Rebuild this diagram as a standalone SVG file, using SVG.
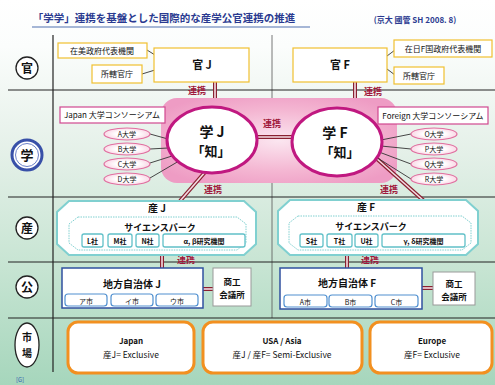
<svg xmlns="http://www.w3.org/2000/svg" width="495" height="385" viewBox="0 0 495 385">
<defs>
<linearGradient id="bg" x1="0" y1="0" x2="0" y2="1">
<stop offset="0" stop-color="#ffffff"/>
<stop offset="0.12" stop-color="#fbfdfc"/>
<stop offset="0.4" stop-color="#e4f0e8"/>
<stop offset="0.7" stop-color="#c6e4d2"/>
<stop offset="1" stop-color="#a6d6bc"/>
</linearGradient>
<radialGradient id="pinkg" cx="0.5" cy="0.5" r="0.6">
<stop offset="0" stop-color="#fbe6f0"/>
<stop offset="0.6" stop-color="#f4b6d2"/>
<stop offset="1" stop-color="#ee9cc4"/>
</radialGradient>
<radialGradient id="unig" cx="0.5" cy="0.5" r="0.6">
<stop offset="0.4" stop-color="#ffffff"/>
<stop offset="1" stop-color="#f8c8dc"/>
</radialGradient>
<style>
text{font-family:"Noto Sans CJK JP","Liberation Sans",sans-serif;fill:#111;text-anchor:middle}
.b{font-weight:bold}
.yb{fill:#fff;stroke:#f0c030;stroke-width:1.2}
.lbl{font-size:8px}
.red{fill:#a0183c;font-size:9px;font-weight:bold}
.dl{stroke:#8a2030;stroke-width:4;fill:none}
.dw{stroke:#f4dce4;stroke-width:1.6;fill:none}
.thin{stroke:#333;stroke-width:0.9;fill:none}
.uni{fill:url(#unig);stroke:#e070a0;stroke-width:1.2}
.oct{fill:#fff;stroke:#80d0d0;stroke-width:2}
.octi{fill:#fff;stroke:#80d0d0;stroke-width:1;stroke-dasharray:1.5 1}
.co{fill:#fff;stroke:#60c0c8;stroke-width:1.3}
.gov{fill:#fff;stroke:#3050a0;stroke-width:1.5}
.city{fill:#fff;stroke:#5090d0;stroke-width:1.2}
.cci{fill:#fff;stroke:#999;stroke-width:1}
.mk{fill:#fff;stroke:#f29020;stroke-width:3}
.grid{stroke:#222;stroke-width:1.2}
</style>
</defs>
<rect width="495" height="385" fill="url(#bg)"/>

<g id="title">
<text x="164" y="22" class="b" font-size="10.5" style="fill:#2a3a90">「学学」連携を基盤とした国際的な産学公官連携の推進</text>
<line x1="32" y1="27" x2="310" y2="27" stroke="#5070b0" stroke-width="1.2"/>
<text x="415" y="23" class="b" font-size="8" style="fill:#2a3a90">(京大 國管 SH 2008. 8)</text>
</g>

<g id="grid">
<line class="grid" x1="53" y1="35" x2="53" y2="372"/>
<line x1="272" y1="35" x2="272" y2="318" stroke="#555" stroke-width="0.8"/>
<line class="grid" x1="8" y1="90" x2="495" y2="90"/>
<line class="grid" x1="8" y1="197" x2="495" y2="197"/>
<line class="grid" x1="8" y1="262" x2="495" y2="262"/>
<line class="grid" x1="8" y1="318" x2="495" y2="318"/>
</g>

<g id="row-labels">
<circle cx="27" cy="68" r="11" fill="#fff" stroke="#222" stroke-width="1.3"/>
<text x="27" y="73" class="b" font-size="12">官</text>
<circle cx="27" cy="155" r="15" fill="#fff" stroke="#3850a8" stroke-width="3"/>
<circle cx="27" cy="155" r="11.5" fill="#fff" stroke="#6a80c8" stroke-width="1"/>
<text x="27" y="160" class="b" font-size="13">学</text>
<circle cx="27" cy="228" r="11" fill="#fff" stroke="#222" stroke-width="1.3"/>
<text x="27" y="233" class="b" font-size="12">産</text>
<circle cx="27" cy="287" r="11" fill="#fff" stroke="#222" stroke-width="1.3"/>
<text x="27" y="292" class="b" font-size="12">公</text>
<ellipse cx="27" cy="345" rx="12" ry="22" fill="#fff" stroke="#222" stroke-width="1.3"/>
<text x="27" y="341" class="b" font-size="10">市</text>
<text x="27" y="357" class="b" font-size="10">場</text>
</g>

<g id="connectors">
<line class="dl" x1="215" y1="82" x2="215" y2="108"/><line class="dw" x1="215" y1="82" x2="215" y2="108"/>
<line class="dl" x1="355" y1="82" x2="355" y2="109"/><line class="dw" x1="355" y1="82" x2="355" y2="109"/>
<line class="thin" x1="147" y1="50" x2="155" y2="55" stroke="#666"/>
<line class="thin" x1="142" y1="74" x2="155" y2="70" stroke="#666"/>
<line class="thin" x1="387" y1="56" x2="395" y2="50" stroke="#666"/>
<line class="thin" x1="387" y1="69" x2="395" y2="75" stroke="#666"/>
</g>

<g id="gakurow">
<rect x="161" y="98" width="236" height="85" rx="16" fill="url(#pinkg)"/>
</g>

<g id="connectors2">
<line class="dl" x1="256" y1="137" x2="294" y2="137"/><line class="dw" x1="256" y1="137" x2="294" y2="137"/>
<text x="272" y="127" class="red">連携</text>
<line class="dl" x1="206" y1="171" x2="180" y2="201"/><line class="dw" x1="206" y1="171" x2="180" y2="201"/>
<line class="dl" x1="376" y1="158" x2="424" y2="201"/><line class="dw" x1="376" y1="158" x2="424" y2="201"/>
<line class="dl" x1="162" y1="254" x2="162" y2="269"/><line class="dw" x1="162" y1="254" x2="162" y2="269"/>
<line class="dl" x1="347" y1="254" x2="347" y2="269"/><line class="dw" x1="347" y1="254" x2="347" y2="269"/>
<line class="dl" x1="203" y1="289" x2="214" y2="289"/><line class="dw" x1="203" y1="289" x2="214" y2="289"/>
<line class="dl" x1="422" y1="288" x2="434" y2="288"/><line class="dw" x1="422" y1="288" x2="434" y2="288"/>
<line class="thin" x1="150" y1="134" x2="168" y2="139"/>
<line class="thin" x1="150" y1="149" x2="168" y2="148"/>
<line class="thin" x1="150" y1="163" x2="172" y2="156"/>
<line class="thin" x1="150" y1="178" x2="179" y2="161"/>
<line class="thin" x1="381" y1="140" x2="411" y2="134"/>
<line class="thin" x1="381" y1="146" x2="411" y2="149"/>
<line class="thin" x1="379" y1="152" x2="411" y2="164"/>
<line class="thin" x1="376" y1="157" x2="411" y2="179"/>
<text x="197" y="94" class="red">連携</text>
<text x="373" y="95" class="red">連携</text>
<text x="213" y="193" class="red">連携</text>
<text x="389" y="193" class="red">連携</text>
<text x="186" y="263" class="red">連携</text>
<text x="370" y="263" class="red">連携</text>
</g>

<g id="gov-j">
<rect class="yb" x="58" y="43" width="89" height="15"/>
<text x="102" y="54" class="lbl">在美政府代表機関</text>
<rect class="yb" x="92" y="65" width="50" height="18"/>
<text x="117" y="77" class="lbl">所轄官庁</text>
<rect class="yb" x="154" y="48" width="95" height="34"/>
<text x="202" y="69" class="b" font-size="11">官 J</text>
</g>
<g id="gov-f">
<rect class="yb" x="394" y="40" width="98" height="17"/>
<text x="443" y="52" class="lbl">在日F国政府代表機関</text>
<rect class="yb" x="394" y="67" width="50" height="17"/>
<text x="419" y="79" class="lbl">所轄官庁</text>
<rect class="yb" x="293" y="48" width="94" height="34"/>
<text x="340" y="69" class="b" font-size="11">官 F</text>
</g>

<g id="consortium-j">
<rect x="60" y="107" width="105" height="16" fill="#fff" stroke="#d04890" stroke-width="1.2"/>
<text x="112" y="118" class="lbl">Japan 大学コンソーシアム</text>
</g>
<g id="consortium-f">
<rect x="378" y="107" width="110" height="17" fill="#fff" stroke="#d04890" stroke-width="1.2"/>
<text x="433" y="119" class="lbl">Foreign 大学コンソーシアム</text>
</g>
<g id="unis-j">
<ellipse class="uni" cx="127" cy="134" rx="23" ry="6"/><text x="127" y="137" font-size="7">A大学</text>
<ellipse class="uni" cx="127" cy="149" rx="23" ry="6"/><text x="127" y="152" font-size="7">B大学</text>
<ellipse class="uni" cx="127" cy="164" rx="23" ry="6"/><text x="127" y="167" font-size="7">C大学</text>
<ellipse class="uni" cx="127" cy="179" rx="23" ry="6"/><text x="127" y="182" font-size="7">D大学</text>
</g>
<g id="unis-f">
<ellipse class="uni" cx="434" cy="134" rx="23" ry="6"/><text x="434" y="137" font-size="7">O大学</text>
<ellipse class="uni" cx="434" cy="149" rx="23" ry="6"/><text x="434" y="152" font-size="7">P大学</text>
<ellipse class="uni" cx="434" cy="164" rx="23" ry="6"/><text x="434" y="167" font-size="7">Q大学</text>
<ellipse class="uni" cx="434" cy="179" rx="23" ry="6"/><text x="434" y="182" font-size="7">R大学</text>
</g>

<g id="gaku-j">
<ellipse cx="212" cy="140" rx="45" ry="33" fill="#fff" stroke="#c01880" stroke-width="3"/>
<text x="212" y="137" class="b" font-size="14">学 J</text>
<text x="211" y="156" class="b" font-size="13">「知」</text>
</g>
<g id="gaku-f">
<ellipse cx="337" cy="142" rx="45" ry="34" fill="#fff" stroke="#c01880" stroke-width="3"/>
<text x="335" y="138" class="b" font-size="14">学 F</text>
<text x="340" y="157" class="b" font-size="13">「知」</text>
</g>

<g id="san-j">
<path class="oct" d="M69,201 H244 L256,212 V244 L244,255 H69 L57,244 V212 Z"/>
<path class="octi" d="M78,217 H237 L246,224 V243 L237,250 H78 L69,243 V224 Z"/>
<text x="157" y="212" class="b" font-size="10">産 J</text>
<text x="160" y="231" class="b" font-size="9">サイエンスパーク</text>
<rect class="co" x="82" y="234" width="21" height="13" rx="2"/><text x="92.5" y="244" class="b" font-size="7">L社</text>
<rect class="co" x="108" y="234" width="24" height="13" rx="2"/><text x="120" y="244" class="b" font-size="7">M社</text>
<rect class="co" x="136" y="234" width="23" height="13" rx="2"/><text x="147.5" y="244" class="b" font-size="7">N社</text>
<rect class="co" x="163" y="234" width="82" height="13" rx="2"/><text x="204" y="244" class="b" font-size="7">α, β研究機関</text>
</g>
<g id="san-f">
<path class="oct" d="M290,200 H466 L478,211 V244 L466,255 H290 L278,244 V211 Z"/>
<path class="octi" d="M298,216 H462 L471,223 V243 L462,250 H298 L289,243 V223 Z"/>
<text x="366" y="211" class="b" font-size="10">産 F</text>
<text x="371" y="230" class="b" font-size="9">サイエンスパーク</text>
<rect class="co" x="300" y="234" width="23" height="13" rx="2"/><text x="311.5" y="244" class="b" font-size="7">S社</text>
<rect class="co" x="327" y="234" width="25" height="13" rx="2"/><text x="339.5" y="244" class="b" font-size="7">T社</text>
<rect class="co" x="355" y="234" width="23" height="13" rx="2"/><text x="366.5" y="244" class="b" font-size="7">U社</text>
<rect class="co" x="382" y="234" width="83" height="13" rx="2"/><text x="423.5" y="244" class="b" font-size="7">γ, δ研究機関</text>
</g>

<g id="ko-j">
<rect class="gov" x="62" y="268" width="141" height="40"/>
<text x="132" y="288" class="b" font-size="10">地方自治体 J</text>
<rect class="city" x="65" y="294" width="42" height="12" rx="3"/><text x="86" y="304" font-size="7">ア市</text>
<rect class="city" x="111" y="294" width="42" height="12" rx="3"/><text x="132" y="304" font-size="7">イ市</text>
<rect class="city" x="156" y="294" width="42" height="12" rx="3"/><text x="177" y="304" font-size="7">ウ市</text>
</g>
<g id="cci-j">
<rect class="cci" x="213" y="268" width="38" height="38"/>
<text x="232" y="285" class="b" font-size="8.5">商工</text>
<text x="232" y="298" class="b" font-size="8.5">会議所</text>
</g>
<g id="ko-f">
<rect class="gov" x="280" y="268" width="142" height="41"/>
<text x="347" y="287" class="b" font-size="10">地方自治体 F</text>
<rect class="city" x="284" y="295" width="43" height="12" rx="3"/><text x="305.5" y="305" font-size="7">A市</text>
<rect class="city" x="329" y="295" width="43" height="12" rx="3"/><text x="350.5" y="305" font-size="7">B市</text>
<rect class="city" x="375" y="295" width="43" height="12" rx="3"/><text x="396.5" y="305" font-size="7">C市</text>
</g>
<g id="cci-f">
<rect class="cci" x="433" y="272" width="42" height="33"/>
<text x="454" y="287" class="b" font-size="8.5">商工</text>
<text x="454" y="300" class="b" font-size="8.5">会議所</text>
</g>

<g id="mkt-japan">
<rect class="mk" x="68" y="322" width="126" height="51" rx="10"/>
<text x="131" y="344" class="b" font-size="8">Japan</text>
<text x="131" y="358" font-size="8.5">産J= Exclusive</text>
</g>
<g id="mkt-usa">
<rect class="mk" x="203" y="322" width="159" height="51" rx="10"/>
<text x="282" y="344" class="b" font-size="8">USA / Asia</text>
<text x="282" y="358" font-size="8.5">産J / 産F= Semi-Exclusive</text>
</g>
<g id="mkt-europe">
<rect class="mk" x="370" y="322" width="122" height="51" rx="10"/>
<text x="432" y="344" class="b" font-size="8">Europe</text>
<text x="432" y="358" font-size="8.5">産F= Exclusive</text>
</g>
<text x="20" y="382" font-size="6" style="fill:#3060b0">[G]</text>
</svg>
